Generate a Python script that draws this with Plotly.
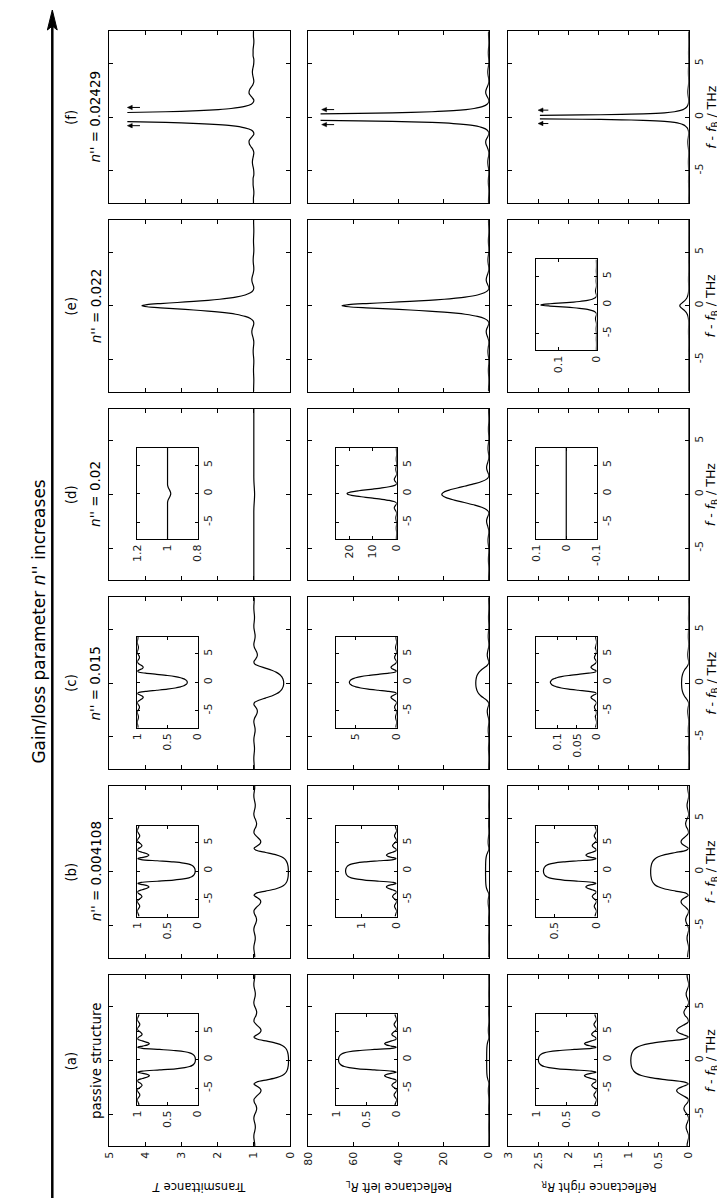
import plotly.graph_objects as go

W, H = 725, 1198
FONT = 'DejaVu Sans'

# ---------------- data ----------------
# detuning f - f_B in THz
F = [-8.0,-7.8,-7.5,-7.2,-6.9,-6.6,-6.3,-6.0,-5.7,-5.4,-5.1,-4.8,-4.5,-4.2,-3.9,-3.6,-3.3,-3.0,-2.8,-2.6,
     -2.4,-2.2,-2.0,-1.8,-1.6,-1.4,-1.2,-1.0,-0.8,-0.7,-0.6,-0.5,-0.4,-0.3,-0.2,-0.1,0.0,
     0.1,0.2,0.3,0.4,0.5,0.6,0.7,0.8,1.0,1.2,1.4,1.6,1.8,2.0,2.2,2.4,2.6,2.8,3.0,3.3,3.6,3.9,
     4.2,4.5,4.8,5.1,5.4,5.7,6.0,6.3,6.6,6.9,7.2,7.5,7.8,8.0]

# (a) passive structure
T_A = [0.975,0.975,0.987,0.999,0.996,0.976,0.959,0.963,0.985,1.000,0.983,0.943,0.920,0.939,0.986,0.993,0.916,0.823,0.800,0.829,
       0.912,0.997,0.916,0.632,0.368,0.214,0.134,0.091,0.067,0.059,0.053,0.048,0.045,0.042,0.041,0.040,0.039,
       0.040,0.041,0.042,0.045,0.048,0.053,0.059,0.067,0.091,0.134,0.214,0.368,0.632,0.916,0.997,0.912,0.829,0.800,0.823,
       0.916,0.993,0.986,0.939,0.920,0.943,0.983,1.000,0.985,0.963,0.959,0.976,0.996,0.999,0.987,0.975,0.975]
R_A = [0.025,0.025,0.013,0.001,0.004,0.024,0.041,0.037,0.015,0.000,0.017,0.057,0.080,0.061,0.014,0.007,0.084,0.177,0.200,0.171,
       0.088,0.003,0.084,0.368,0.632,0.786,0.866,0.909,0.933,0.941,0.947,0.952,0.955,0.958,0.959,0.960,0.961,
       0.960,0.959,0.958,0.955,0.952,0.947,0.941,0.933,0.909,0.866,0.786,0.632,0.368,0.084,0.003,0.088,0.171,0.200,0.177,
       0.084,0.007,0.014,0.061,0.080,0.057,0.017,0.000,0.015,0.037,0.041,0.024,0.004,0.001,0.013,0.025,0.025]

# (b) n'' = 0.004108
T_B = [0.976,0.976,0.987,0.999,0.996,0.978,0.961,0.964,0.985,1.000,0.984,0.946,0.923,0.941,0.986,0.994,0.923,0.832,0.807,0.832,
       0.909,0.994,0.936,0.671,0.401,0.236,0.147,0.100,0.073,0.065,0.058,0.053,0.049,0.047,0.045,0.044,0.043,
       0.044,0.045,0.047,0.049,0.053,0.058,0.065,0.073,0.100,0.147,0.236,0.401,0.671,0.936,0.994,0.909,0.832,0.807,0.832,
       0.923,0.994,0.986,0.941,0.923,0.946,0.984,1.000,0.985,0.964,0.961,0.978,0.996,0.999,0.987,0.976,0.976]
RL_B = [0.037,0.036,0.020,0.002,0.006,0.034,0.059,0.055,0.023,0.000,0.024,0.082,0.117,0.090,0.022,0.009,0.118,0.255,0.293,0.255,
        0.138,0.010,0.097,0.499,0.908,1.159,1.293,1.365,1.406,1.419,1.429,1.436,1.442,1.446,1.449,1.451,1.451,
        1.451,1.449,1.446,1.442,1.436,1.429,1.419,1.406,1.365,1.293,1.159,0.908,0.499,0.097,0.010,0.138,0.255,0.293,0.255,
        0.118,0.009,0.022,0.090,0.117,0.082,0.024,0.000,0.023,0.055,0.059,0.034,0.006,0.002,0.020,0.036,0.037]
RR_B = [0.016,0.016,0.009,0.001,0.003,0.015,0.026,0.024,0.010,0.000,0.010,0.036,0.051,0.039,0.010,0.004,0.051,0.111,0.127,0.111,
        0.060,0.004,0.042,0.217,0.395,0.504,0.562,0.593,0.611,0.617,0.621,0.624,0.627,0.629,0.630,0.631,0.631,
        0.631,0.630,0.629,0.627,0.624,0.621,0.617,0.611,0.593,0.562,0.504,0.395,0.217,0.042,0.004,0.060,0.111,0.127,0.111,
        0.051,0.004,0.010,0.039,0.051,0.036,0.010,0.000,0.010,0.024,0.026,0.015,0.003,0.001,0.009,0.016,0.016]

# (c) n'' = 0.015
T_C = [0.989,0.989,0.993,0.999,0.999,0.992,0.983,0.982,0.990,0.999,0.996,0.980,0.965,0.967,0.986,1.000,0.982,0.936,0.910,0.902,
       0.920,0.960,0.997,0.979,0.863,0.680,0.504,0.373,0.285,0.254,0.230,0.211,0.197,0.186,0.179,0.175,0.174,
       0.175,0.179,0.186,0.197,0.211,0.230,0.254,0.285,0.373,0.504,0.680,0.863,0.979,0.997,0.960,0.920,0.902,0.910,0.936,
       0.982,1.000,0.986,0.967,0.965,0.980,0.996,0.999,0.990,0.982,0.983,0.992,0.999,0.999,0.993,0.989,0.989]
RL_C = [0.08,0.08,0.05,0.01,0.01,0.06,0.12,0.13,0.07,0.01,0.03,0.14,0.24,0.23,0.10,0.00,0.13,0.45,0.63,0.69,
        0.56,0.28,0.02,0.15,0.96,2.24,3.47,4.39,5.00,5.22,5.39,5.52,5.62,5.69,5.74,5.77,5.78,
        5.77,5.74,5.69,5.62,5.52,5.39,5.22,5.00,4.39,3.47,2.24,0.96,0.15,0.02,0.28,0.56,0.69,0.63,0.45,
        0.13,0.00,0.10,0.23,0.24,0.14,0.03,0.01,0.07,0.13,0.12,0.06,0.01,0.01,0.05,0.08,0.08]
RR_C = [0.002,0.002,0.001,0.000,0.000,0.001,0.002,0.003,0.001,0.000,0.001,0.003,0.005,0.005,0.002,0.000,0.003,0.009,0.013,0.014,
        0.011,0.006,0.000,0.003,0.020,0.046,0.071,0.090,0.102,0.106,0.110,0.113,0.115,0.116,0.117,0.118,0.118,
        0.118,0.117,0.116,0.115,0.113,0.110,0.106,0.102,0.090,0.071,0.046,0.020,0.003,0.000,0.006,0.011,0.014,0.013,0.009,
        0.003,0.000,0.002,0.005,0.005,0.003,0.001,0.000,0.001,0.003,0.002,0.001,0.000,0.000,0.001,0.002,0.002]

# (d) n'' = 0.02
T_D = [1.000,1.000,1.000,1.000,1.000,1.000,1.000,1.000,1.000,1.000,1.000,1.000,1.000,1.000,1.000,1.000,1.000,1.000,1.000,1.000,
       1.000,1.000,1.000,1.000,1.000,0.999,0.997,0.994,0.990,0.988,0.986,0.984,0.983,0.981,0.980,0.979,0.979,
       0.979,0.980,0.981,0.983,0.984,0.986,0.988,0.990,0.994,0.997,0.999,1.000,1.000,1.000,1.000,1.000,1.000,1.000,1.000,
       1.000,1.000,1.000,1.000,1.000,1.000,1.000,1.000,1.000,1.000,1.000,1.000,1.000,1.000,1.000,1.000,1.000]
RL_D = [0.10,0.11,0.07,0.02,0.00,0.06,0.15,0.17,0.11,0.02,0.01,0.14,0.30,0.34,0.19,0.02,0.07,0.43,0.75,0.96,
        0.96,0.71,0.32,0.02,0.18,1.14,3.15,6.20,9.99,12.01,13.99,15.86,17.53,18.92,19.96,20.60,20.82,
        20.60,19.96,18.92,17.53,15.86,13.99,12.01,9.99,6.20,3.15,1.14,0.18,0.02,0.32,0.71,0.96,0.96,0.75,0.43,
        0.07,0.02,0.19,0.34,0.30,0.14,0.01,0.02,0.11,0.17,0.15,0.06,0.00,0.02,0.07,0.11,0.10]
RR_D = [0.0]*73

# (e) n'' = 0.022
T_E = [1.005,1.006,1.004,1.001,1.000,1.003,1.007,1.009,1.006,1.001,1.000,1.006,1.015,1.018,1.012,1.002,1.002,1.019,1.036,1.050,
       1.055,1.046,1.027,1.007,1.001,1.024,1.095,1.240,1.500,1.694,1.945,2.266,2.663,3.120,3.586,3.954,4.096,
       3.954,3.586,3.120,2.663,2.266,1.945,1.694,1.500,1.240,1.095,1.024,1.001,1.007,1.027,1.046,1.055,1.050,1.036,1.019,
       1.002,1.002,1.012,1.018,1.015,1.006,1.000,1.001,1.006,1.009,1.007,1.003,1.000,1.001,1.004,1.006,1.005]
RL_E = [0.11,0.13,0.08,0.02,0.00,0.06,0.15,0.19,0.13,0.02,0.00,0.13,0.32,0.38,0.25,0.04,0.04,0.40,0.76,1.05,
        1.16,0.97,0.57,0.15,0.02,0.50,2.00,5.04,10.5,14.6,19.8,26.6,34.9,44.5,54.3,62.0,65.0,
        62.0,54.3,44.5,34.9,26.6,19.8,14.6,10.5,5.04,2.00,0.50,0.02,0.15,0.57,0.97,1.16,1.05,0.76,0.40,
        0.04,0.04,0.25,0.38,0.32,0.13,0.00,0.02,0.13,0.19,0.15,0.06,0.00,0.02,0.08,0.13,0.11]
RR_E = [0.0002,0.0003,0.0002,0.0,0.0,0.0001,0.0003,0.0004,0.0003,0.0,0.0,0.0003,0.0007,0.0009,0.0006,0.0001,0.0001,0.0009,0.0017,0.0024,
        0.0026,0.0022,0.0013,0.0003,0.0,0.0011,0.0045,0.0114,0.0238,0.0330,0.0450,0.0603,0.0792,0.1009,0.1231,0.1406,0.1474,
        0.1406,0.1231,0.1009,0.0792,0.0603,0.0450,0.0330,0.0238,0.0114,0.0045,0.0011,0.0,0.0003,0.0013,0.0022,0.0026,0.0024,0.0017,0.0009,
        0.0001,0.0001,0.0006,0.0009,0.0007,0.0003,0.0,0.0,0.0003,0.0004,0.0003,0.0001,0.0,0.0,0.0002,0.0003,0.0002]

# (f) n'' = 0.02429 (curves leave the plotted range near f = 0)
F_FT = [-8.0,-7.8,-7.5,-7.2,-6.9,-6.6,-6.3,-6.0,-5.7,-5.4,-5.1,-4.8,-4.5,-4.2,-3.9,-3.6,-3.3,-3.0,-2.8,-2.6,
        -2.4,-2.2,-2.0,-1.8,-1.6,-1.4,-1.2,-1.0,-0.8,-0.7,-0.6,-0.5,-0.43,None,
        0.43,0.5,0.6,0.7,0.8,1.0,1.2,1.4,1.6,1.8,2.0,2.2,2.4,2.6,2.8,3.0,3.3,3.6,3.9,
        4.2,4.5,4.8,5.1,5.4,5.7,6.0,6.3,6.6,6.9,7.2,7.5,7.8,8.0]
T_F = [1.01,1.01,1.01,1.00,1.00,1.01,1.02,1.02,1.02,1.00,1.00,1.01,1.03,1.04,1.03,1.01,1.00,1.03,1.07,1.11,
       1.13,1.13,1.09,1.04,1.00,1.01,1.07,1.25,1.63,1.98,2.52,3.44,4.5,None,
       4.5,3.44,2.52,1.98,1.63,1.25,1.07,1.01,1.00,1.04,1.09,1.13,1.13,1.11,1.07,1.03,1.00,1.01,1.03,
       1.04,1.03,1.01,1.00,1.00,1.02,1.02,1.02,1.01,1.00,1.00,1.01,1.01,1.01]
F_FL = [-8.0,-7.8,-7.5,-7.2,-6.9,-6.6,-6.3,-6.0,-5.7,-5.4,-5.1,-4.8,-4.5,-4.2,-3.9,-3.6,-3.3,-3.0,-2.8,-2.6,
        -2.4,-2.2,-2.0,-1.8,-1.6,-1.4,-1.2,-1.0,-0.8,-0.7,-0.6,-0.5,-0.4,-0.35,-0.31,None,
        0.31,0.35,0.4,0.5,0.6,0.7,0.8,1.0,1.2,1.4,1.6,1.8,2.0,2.2,2.4,2.6,2.8,3.0,3.3,3.6,3.9,
        4.2,4.5,4.8,5.1,5.4,5.7,6.0,6.3,6.6,6.9,7.2,7.5,7.8,8.0]
RL_F = [0.110,0.132,0.104,0.034,0.000,0.055,0.162,0.221,0.163,0.045,0.004,0.121,0.334,0.446,0.324,0.084,0.013,0.313,0.703,1.12,
        1.37,1.31,0.925,0.418,0.051,0.079,0.773,2.58,6.54,10.1,15.7,25.2,42.7,57.5,74.5,None,
        74.5,57.5,42.7,25.2,15.7,10.1,6.54,2.58,0.773,0.079,0.051,0.418,0.925,1.31,1.37,1.12,0.703,0.313,0.013,0.084,0.324,
        0.446,0.334,0.121,0.004,0.045,0.163,0.221,0.162,0.055,0.000,0.034,0.104,0.132,0.110]
F_FR = [-8.0,-7.8,-7.5,-7.2,-6.9,-6.6,-6.3,-6.0,-5.7,-5.4,-5.1,-4.8,-4.5,-4.2,-3.9,-3.6,-3.3,-3.0,-2.8,-2.6,
        -2.4,-2.2,-2.0,-1.8,-1.6,-1.4,-1.2,-1.0,-0.8,-0.7,-0.6,-0.5,-0.4,-0.3,-0.25,-0.2,-0.17,None,
        0.17,0.2,0.25,0.3,0.4,0.5,0.6,0.7,0.8,1.0,1.2,1.4,1.6,1.8,2.0,2.2,2.4,2.6,2.8,3.0,3.3,3.6,3.9,
        4.2,4.5,4.8,5.1,5.4,5.7,6.0,6.3,6.6,6.9,7.2,7.5,7.8,8.0]
RR_F = [0.0010,0.0012,0.0010,0.0003,0.0000,0.0005,0.0015,0.0021,0.0015,0.0004,0.0000,0.0011,0.0031,0.0042,0.0030,0.0008,0.0001,
        0.0029,0.0066,0.0105,0.0129,0.0123,0.0087,0.0039,0.0005,0.0007,0.0073,0.0242,0.0614,0.0949,0.148,0.236,0.400,0.756,
        1.113,1.77,2.47,None,
        2.47,1.77,1.113,0.756,0.400,0.236,0.148,0.0949,0.0614,0.0242,0.0073,0.0007,0.0005,0.0039,0.0087,0.0123,0.0129,0.0105,
        0.0066,0.0029,0.0001,0.0008,0.0030,0.0042,0.0031,0.0011,0.0000,0.0004,0.0015,0.0021,0.0015,0.0005,0.0000,0.0003,
        0.0010,0.0012,0.0010]

# arrows marking divergence in (f): (value at head, value at tail, f positions)
ARROWS_F = {'T': (4.5, 4.15, [0.9, -0.8]), 'RL': (74.0, 68.5, [0.7, -0.7]), 'RR': (2.5, 2.33, [0.65, -0.6])}

PANEL_LABELS = {'a': ('(a)', 'passive structure'), 'b': ('(b)', "<i>n''</i> = 0.004108"),
                'c': ('(c)', "<i>n''</i> = 0.015"), 'd': ('(d)', "<i>n''</i> = 0.02"),
                'e': ('(e)', "<i>n''</i> = 0.022"), 'f': ('(f)', "<i>n''</i> = 0.02429")}
COL_TITLES = {'T': 'Transmittance <i>T</i>', 'RL': 'Reflectance left <i>R</i><sub>L</sub>',
              'RR': 'Reflectance right <i>R</i><sub>R</sub>'}
MAIN_MAX = {'T': 5, 'RL': 80, 'RR': 3}
MAIN_TICKS = {'T': [0, 1, 2, 3, 4, 5], 'RL': [0, 20, 40, 60, 80], 'RR': [0, 0.5, 1, 1.5, 2, 2.5, 3]}
MAIN_TICKTEXT = {'T': ['0', '1', '2', '3', '4', '5'], 'RL': ['0', '20', '40', '60', '80'],
                 'RR': ['0', '0.5', '1', '1.5', '2', '2.5', '3']}
FREQ_TICKS = [-5, 0, 5]
FREQ_TICKTEXT = ['-5', '0', '5']
# inset: (row, column, value range, tick values, tick text)
INSETS = [('a', 'T', [0, 1], [0, 0.5, 1], ['0', '0.5', '1']),
          ('a', 'RL', [0, 1], [0, 0.5, 1], ['0', '0.5', '1']),
          ('a', 'RR', [0, 1], [0, 0.5, 1], ['0', '0.5', '1']),
          ('b', 'T', [0, 1], [0, 0.5, 1], ['0', '0.5', '1']),
          ('b', 'RL', [0, 1.72], [0, 1], ['0', '1']),
          ('b', 'RR', [0, 0.72], [0, 0.5], ['0', '0.5']),
          ('c', 'T', [0, 1], [0, 0.5, 1], ['0', '0.5', '1']),
          ('c', 'RL', [0, 7.4], [0, 5], ['0', '5']),
          ('c', 'RR', [0, 0.155], [0, 0.05, 0.1], ['0', '0.05', '0.1']),
          ('d', 'T', [0.8, 1.2], [0.8, 1, 1.2], ['0.8', '1', '1.2']),
          ('d', 'RL', [0, 25.4], [0, 10, 20], ['0', '10', '20']),
          ('d', 'RR', [-0.1, 0.1], [-0.1, 0, 0.1], ['-0.1', '0', '0.1']),
          ('e', 'RR', [0, 0.16], [0, 0.1], ['0', '0.1'])]

CURVES = {('a', 'T'): (F, T_A), ('a', 'RL'): (F, R_A), ('a', 'RR'): (F, R_A),
          ('b', 'T'): (F, T_B), ('b', 'RL'): (F, RL_B), ('b', 'RR'): (F, RR_B),
          ('c', 'T'): (F, T_C), ('c', 'RL'): (F, RL_C), ('c', 'RR'): (F, RR_C),
          ('d', 'T'): (F, T_D), ('d', 'RL'): (F, RL_D), ('d', 'RR'): (F, RR_D),
          ('e', 'T'): (F, T_E), ('e', 'RL'): (F, RL_E), ('e', 'RR'): (F, RR_E),
          ('f', 'T'): (F_FT, T_F), ('f', 'RL'): (F_FL, RL_F), ('f', 'RR'): (F_FR, RR_F)}

# ---------------- layout geometry (pixels) ----------------
def px(x): return x / W
def py(y): return 1 - y / H

ROWS = ['f', 'e', 'd', 'c', 'b', 'a']
ROW_TOP = {'f': 23.3, 'e': 211.9, 'd': 400.6, 'c': 589.3, 'b': 778.0, 'a': 966.7}
RH = 171.6
COLS = ['T', 'RL', 'RR']
COL_X = {'T': (97, 281), 'RL': (299.5, 483.5), 'RR': (503, 687)}

fig = go.Figure()
layout = {}

def make_axes(n, xdom, ydom, vr, tv, tt, show_x, show_y, tl):
    sfx = '' if n == 1 else str(n)
    common = dict(showline=True, linecolor='black', linewidth=1, mirror='allticks',
                  ticks='inside', ticklen=tl, tickwidth=1, tickcolor='black', showgrid=False,
                  zeroline=False, tickangle=-90,
                  tickfont=dict(size=11, color='#1a1a1a', family=FONT))
    layout['xaxis' + sfx] = dict(domain=xdom, range=[vr[1], vr[0]], tickvals=tv, ticktext=tt,
                                 showticklabels=show_x, anchor='y' + sfx, **common)
    layout['yaxis' + sfx] = dict(domain=ydom, range=[-8, 8], tickvals=FREQ_TICKS, ticktext=FREQ_TICKTEXT,
                                 showticklabels=show_y, side='right', anchor='x' + sfx, **common)
    return 'x' + sfx, 'y' + sfx

def add_curve(key, xa, ya):
    fx, vy = CURVES[key]
    fig.add_trace(go.Scatter(x=vy, y=fx, mode='lines',
                             line=dict(color='black', width=1.2, shape='spline', smoothing=0.8),
                             xaxis=xa, yaxis=ya, showlegend=False, hoverinfo='skip'))

n = 0
axis_of = {}
for r in ROWS:
    for c in COLS:
        n += 1
        x0, x1 = COL_X[c]
        t = ROW_TOP[r]
        xa, ya = make_axes(n, [px(x0), px(x1)], [py(t + RH), py(t)], [0, MAIN_MAX[c]],
                           MAIN_TICKS[c], MAIN_TICKTEXT[c], r == 'a', c == 'RR', 4)
        axis_of[(r, c)] = (xa, ya)
        add_curve((r, c), xa, ya)

for (r, c, vr, tv, tt) in INSETS:
    n += 1
    x0, x1 = COL_X[c]
    w = x1 - x0
    t = ROW_TOP[r]
    xa, ya = make_axes(n, [px(x1 - 0.845 * w), px(x1 - 0.51 * w)], [py(t + 130.5), py(t + 39.5)],
                       vr, tv, tt, True, True, 3)
    add_curve((r, c), xa, ya)

ann = []
for r in ROWS:
    yc = ROW_TOP[r] + RH / 2
    for xx, txt in [(58, PANEL_LABELS[r][0]), (83, PANEL_LABELS[r][1])]:
        ann.append(dict(x=px(xx), y=py(yc), xref='paper', yref='paper', text=txt, showarrow=False,
                        textangle=-90, font=dict(size=13.5, family=FONT, color='black'),
                        xanchor='center', yanchor='middle'))
    ann.append(dict(x=px(710.5), y=py(yc), xref='paper', yref='paper',
                    text="<i>f</i> - <i>f</i><sub>B</sub> / THz", showarrow=False, textangle=-90,
                    font=dict(size=12.5, family=FONT, color='black'), xanchor='center', yanchor='middle'))
for c in COLS:
    ann.append(dict(x=px((COL_X[c][0] + COL_X[c][1]) / 2), y=py(1179), xref='paper', yref='paper',
                    text=COL_TITLES[c], showarrow=False, textangle=180,
                    font=dict(size=11.5, family=FONT, color='black'), xanchor='center', yanchor='middle'))
ann.append(dict(x=px(25), y=py(614), xref='paper', yref='paper',
                text="Gain/loss parameter <i>n''</i> increases", showarrow=False, textangle=-90,
                font=dict(size=17, family=FONT, color='black'), xanchor='center', yanchor='middle'))
layout['annotations'] = ann

shapes = [
    dict(type='line', xref='paper', yref='paper', x0=px(39), x1=px(39), y0=py(1197), y1=py(16),
         line=dict(color='black', width=2.5)),
    dict(type='path', xref='paper', yref='paper',
         path=f'M {px(39)} {py(2)} L {px(34)} {py(22)} L {px(39)} {py(18)} L {px(44)} {py(22)} Z',
         fillcolor='black', line=dict(color='black', width=1))]
# small divergence arrows in row (f), drawn in data coordinates of each panel
for c in COLS:
    xa, ya = axis_of[('f', c)]
    head, tail, fys = ARROWS_F[c]
    sx = (COL_X[c][1] - COL_X[c][0]) / MAIN_MAX[c]   # px per value unit
    sy = RH / 16.0                                   # px per THz
    hl, hw = 5.0 / sx, 2.2 / sy
    for fy in fys:
        shapes.append(dict(type='line', xref=xa, yref=ya, x0=tail, x1=head - hl * 0.6, y0=fy, y1=fy,
                           line=dict(color='black', width=1)))
        shapes.append(dict(type='path', xref=xa, yref=ya,
                           path=f'M {head} {fy} L {head - hl} {fy + hw} L {head - hl} {fy - hw} Z',
                           fillcolor='black', line=dict(color='black', width=0.5)))
layout['shapes'] = shapes

fig.update_layout(width=W, height=H, margin=dict(l=0, r=0, t=0, b=0), paper_bgcolor='white',
                  plot_bgcolor='white', font=dict(family=FONT), **layout)
fig.write_html('out.html')
